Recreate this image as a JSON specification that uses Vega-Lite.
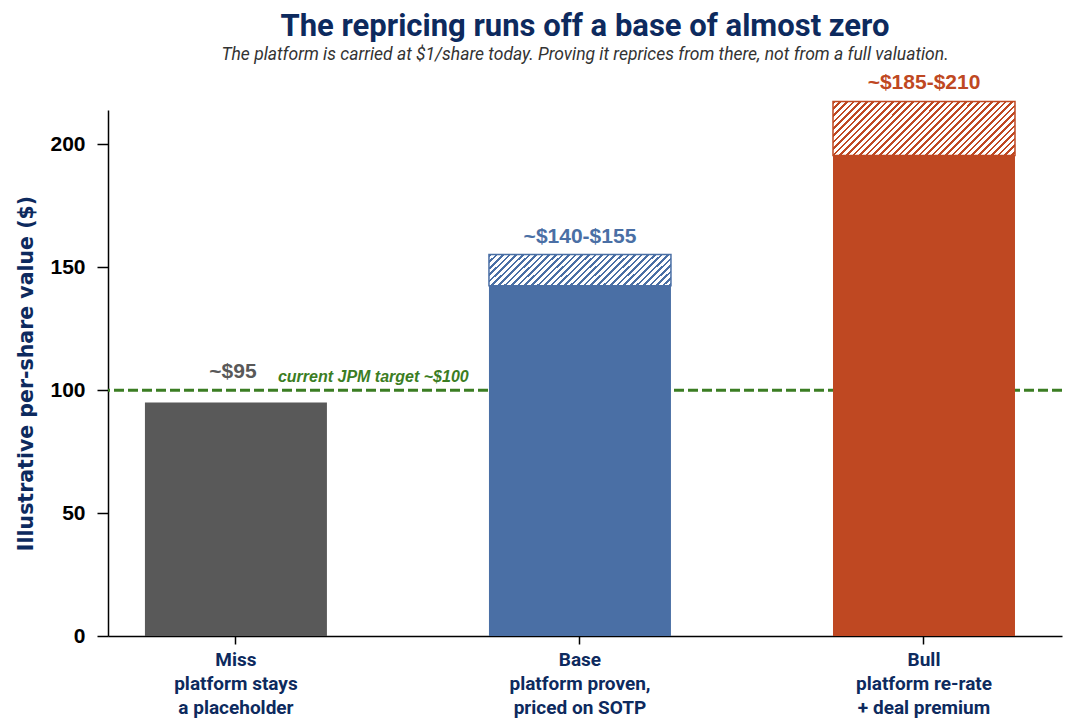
{
  "$schema": "https://vega.github.io/schema/vega-lite/v6.json",
  "width": 954,
  "height": 526,
  "autosize": {"type": "none"},
  "padding": {"left": 108, "top": 110, "right": 12, "bottom": 89},
  "background": "white",
  "config": {
    "view": {"stroke": null},
    "font": "Liberation Sans",
    "axis": {"grid": false, "domainColor": "black", "domainWidth": 1.5, "tickColor": "black", "tickWidth": 1.5}
  },
  "title": {
    "text": "The repricing runs off a base of almost zero",
    "subtitle": "The platform is carried at $1/share today. Proving it reprices from there, not from a full valuation.",
    "anchor": "middle",
    "frame": "group",
    "font": "Roboto",
    "fontSize": 31,
    "fontWeight": "bold",
    "color": "#0d2a5e",
    "subtitleFont": "Roboto",
    "subtitleFontSize": 17.5,
    "subtitleFontStyle": "italic",
    "subtitleColor": "#333333",
    "subtitlePadding": 3,
    "offset": 8
  },
  "data": {
    "values": [
      {"scenario": "Miss", "value": 95, "hi": 95, "label": "~$95"},
      {"scenario": "Base", "value": 142.5, "hi": 155.2, "label": "~$140-$155"},
      {"scenario": "Bull", "value": 195.5, "hi": 217.5, "label": "~$185-$210"}
    ]
  },
  "layer": [
    {
      "data": {"values": [{"note": "current JPM target ~$100", "target": 100}]},
      "mark": {"type": "rule", "strokeDash": [10, 4], "strokeWidth": 3, "color": "#3b7d23"},
      "encoding": {
        "y": {"field": "target", "type": "quantitative", "scale": {"domain": [0, 214], "nice": false}, "title": "Illustrative per-share value ($)"}
      }
    },
    {
      "data": {"values": [{"note": "current JPM target ~$100", "target": 100}]},
      "mark": {"type": "text", "align": "left", "baseline": "bottom", "dx": 42, "dy": -5, "font": "Liberation Sans", "fontSize": 16, "fontWeight": "bold", "fontStyle": "italic", "color": "#3b7d23"},
      "encoding": {
        "x": {"datum": "Miss", "type": "nominal"},
        "y": {"field": "target", "type": "quantitative", "scale": {"domain": [0, 214], "nice": false}, "title": "Illustrative per-share value ($)"},
        "text": {"field": "note"}
      }
    },
    {
      "mark": {"type": "bar"},
      "encoding": {
        "x": {
          "field": "scenario",
          "type": "nominal",
          "sort": ["Miss", "Base", "Bull"],
          "scale": {"paddingInner": 0.471, "paddingOuter": 0.122, "align": 0.44},
          "axis": {
            "title": null,
            "labelAngle": 0,
            "labelAlign": "center",
            "labelExpr": "datum.value == 'Miss' ? ['Miss', 'platform stays', 'a placeholder'] : datum.value == 'Base' ? ['Base', 'platform proven,', 'priced on SOTP'] : ['Bull', 'platform re-rate', '+ deal premium']",
            "labelFont": "Roboto",
            "labelFontSize": 19,
            "labelFontWeight": "bold",
            "labelColor": "#0d2a5e",
            "labelLineHeight": 24,
            "labelPadding": 15,
            "tickSize": 8
          }
        },
        "y": {
          "field": "value",
          "type": "quantitative",
          "scale": {"domain": [0, 214], "nice": false},
          "title": "Illustrative per-share value ($)",
          "axis": {
            "values": [0, 50, 100, 150, 200],
            "titleFont": "DejaVu Sans",
            "titleFontSize": 20.5,
            "titleFontWeight": "bold",
            "titleColor": "#0d2a5e",
            "titlePadding": 13,
            "labelFont": "Liberation Sans",
            "labelFontSize": 21,
            "labelFontWeight": "bold",
            "labelColor": "black",
            "labelPadding": 12,
            "tickSize": 11
          }
        },
        "color": {
          "field": "scenario",
          "type": "nominal",
          "scale": {"domain": ["Miss", "Base", "Bull"], "range": ["#595959", "#4a6fa5", "#bf4822"]},
          "legend": null
        }
      }
    },
    {
      "transform": [{"filter": "datum.scenario == 'Base'"}],
      "mark": {
        "type": "bar",
        "stroke": "#4a6fa5",
        "strokeWidth": 1.5,
        "fill": {
          "gradient": "linear", "x1": 0, "y1": 0, "x2": 1.407, "y2": 0.247,
          "stops": [
            {"offset": 0, "color": "#4a6fa5"}, {"offset": 0.01, "color": "#4a6fa5"}, {"offset": 0.01, "color": "#fff"}, {"offset": 0.025, "color": "#fff"},
            {"offset": 0.025, "color": "#4a6fa5"}, {"offset": 0.035, "color": "#4a6fa5"}, {"offset": 0.035, "color": "#fff"}, {"offset": 0.05, "color": "#fff"},
            {"offset": 0.05, "color": "#4a6fa5"}, {"offset": 0.06, "color": "#4a6fa5"}, {"offset": 0.06, "color": "#fff"}, {"offset": 0.075, "color": "#fff"},
            {"offset": 0.075, "color": "#4a6fa5"}, {"offset": 0.085, "color": "#4a6fa5"}, {"offset": 0.085, "color": "#fff"}, {"offset": 0.1, "color": "#fff"},
            {"offset": 0.1, "color": "#4a6fa5"}, {"offset": 0.11, "color": "#4a6fa5"}, {"offset": 0.11, "color": "#fff"}, {"offset": 0.125, "color": "#fff"},
            {"offset": 0.125, "color": "#4a6fa5"}, {"offset": 0.135, "color": "#4a6fa5"}, {"offset": 0.135, "color": "#fff"}, {"offset": 0.15, "color": "#fff"},
            {"offset": 0.15, "color": "#4a6fa5"}, {"offset": 0.16, "color": "#4a6fa5"}, {"offset": 0.16, "color": "#fff"}, {"offset": 0.175, "color": "#fff"},
            {"offset": 0.175, "color": "#4a6fa5"}, {"offset": 0.185, "color": "#4a6fa5"}, {"offset": 0.185, "color": "#fff"}, {"offset": 0.2, "color": "#fff"},
            {"offset": 0.2, "color": "#4a6fa5"}, {"offset": 0.21, "color": "#4a6fa5"}, {"offset": 0.21, "color": "#fff"}, {"offset": 0.225, "color": "#fff"},
            {"offset": 0.225, "color": "#4a6fa5"}, {"offset": 0.235, "color": "#4a6fa5"}, {"offset": 0.235, "color": "#fff"}, {"offset": 0.25, "color": "#fff"},
            {"offset": 0.25, "color": "#4a6fa5"}, {"offset": 0.26, "color": "#4a6fa5"}, {"offset": 0.26, "color": "#fff"}, {"offset": 0.275, "color": "#fff"},
            {"offset": 0.275, "color": "#4a6fa5"}, {"offset": 0.285, "color": "#4a6fa5"}, {"offset": 0.285, "color": "#fff"}, {"offset": 0.3, "color": "#fff"},
            {"offset": 0.3, "color": "#4a6fa5"}, {"offset": 0.31, "color": "#4a6fa5"}, {"offset": 0.31, "color": "#fff"}, {"offset": 0.325, "color": "#fff"},
            {"offset": 0.325, "color": "#4a6fa5"}, {"offset": 0.335, "color": "#4a6fa5"}, {"offset": 0.335, "color": "#fff"}, {"offset": 0.35, "color": "#fff"},
            {"offset": 0.35, "color": "#4a6fa5"}, {"offset": 0.36, "color": "#4a6fa5"}, {"offset": 0.36, "color": "#fff"}, {"offset": 0.375, "color": "#fff"},
            {"offset": 0.375, "color": "#4a6fa5"}, {"offset": 0.385, "color": "#4a6fa5"}, {"offset": 0.385, "color": "#fff"}, {"offset": 0.4, "color": "#fff"},
            {"offset": 0.4, "color": "#4a6fa5"}, {"offset": 0.41, "color": "#4a6fa5"}, {"offset": 0.41, "color": "#fff"}, {"offset": 0.425, "color": "#fff"},
            {"offset": 0.425, "color": "#4a6fa5"}, {"offset": 0.435, "color": "#4a6fa5"}, {"offset": 0.435, "color": "#fff"}, {"offset": 0.45, "color": "#fff"},
            {"offset": 0.45, "color": "#4a6fa5"}, {"offset": 0.46, "color": "#4a6fa5"}, {"offset": 0.46, "color": "#fff"}, {"offset": 0.475, "color": "#fff"},
            {"offset": 0.475, "color": "#4a6fa5"}, {"offset": 0.485, "color": "#4a6fa5"}, {"offset": 0.485, "color": "#fff"}, {"offset": 0.5, "color": "#fff"},
            {"offset": 0.5, "color": "#4a6fa5"}, {"offset": 0.51, "color": "#4a6fa5"}, {"offset": 0.51, "color": "#fff"}, {"offset": 0.525, "color": "#fff"},
            {"offset": 0.525, "color": "#4a6fa5"}, {"offset": 0.535, "color": "#4a6fa5"}, {"offset": 0.535, "color": "#fff"}, {"offset": 0.55, "color": "#fff"},
            {"offset": 0.55, "color": "#4a6fa5"}, {"offset": 0.56, "color": "#4a6fa5"}, {"offset": 0.56, "color": "#fff"}, {"offset": 0.575, "color": "#fff"},
            {"offset": 0.575, "color": "#4a6fa5"}, {"offset": 0.585, "color": "#4a6fa5"}, {"offset": 0.585, "color": "#fff"}, {"offset": 0.6, "color": "#fff"},
            {"offset": 0.6, "color": "#4a6fa5"}, {"offset": 0.61, "color": "#4a6fa5"}, {"offset": 0.61, "color": "#fff"}, {"offset": 0.625, "color": "#fff"},
            {"offset": 0.625, "color": "#4a6fa5"}, {"offset": 0.635, "color": "#4a6fa5"}, {"offset": 0.635, "color": "#fff"}, {"offset": 0.65, "color": "#fff"},
            {"offset": 0.65, "color": "#4a6fa5"}, {"offset": 0.66, "color": "#4a6fa5"}, {"offset": 0.66, "color": "#fff"}, {"offset": 0.675, "color": "#fff"},
            {"offset": 0.675, "color": "#4a6fa5"}, {"offset": 0.685, "color": "#4a6fa5"}, {"offset": 0.685, "color": "#fff"}, {"offset": 0.7, "color": "#fff"},
            {"offset": 0.7, "color": "#4a6fa5"}, {"offset": 0.71, "color": "#4a6fa5"}, {"offset": 0.71, "color": "#fff"}, {"offset": 0.725, "color": "#fff"},
            {"offset": 0.725, "color": "#4a6fa5"}, {"offset": 0.735, "color": "#4a6fa5"}, {"offset": 0.735, "color": "#fff"}, {"offset": 0.75, "color": "#fff"},
            {"offset": 0.75, "color": "#4a6fa5"}, {"offset": 0.76, "color": "#4a6fa5"}, {"offset": 0.76, "color": "#fff"}, {"offset": 0.775, "color": "#fff"},
            {"offset": 0.775, "color": "#4a6fa5"}, {"offset": 0.785, "color": "#4a6fa5"}, {"offset": 0.785, "color": "#fff"}, {"offset": 0.8, "color": "#fff"},
            {"offset": 0.8, "color": "#4a6fa5"}, {"offset": 0.81, "color": "#4a6fa5"}, {"offset": 0.81, "color": "#fff"}, {"offset": 0.825, "color": "#fff"},
            {"offset": 0.825, "color": "#4a6fa5"}, {"offset": 0.835, "color": "#4a6fa5"}, {"offset": 0.835, "color": "#fff"}, {"offset": 0.85, "color": "#fff"},
            {"offset": 0.85, "color": "#4a6fa5"}, {"offset": 0.86, "color": "#4a6fa5"}, {"offset": 0.86, "color": "#fff"}, {"offset": 0.875, "color": "#fff"},
            {"offset": 0.875, "color": "#4a6fa5"}, {"offset": 0.885, "color": "#4a6fa5"}, {"offset": 0.885, "color": "#fff"}, {"offset": 0.9, "color": "#fff"},
            {"offset": 0.9, "color": "#4a6fa5"}, {"offset": 0.91, "color": "#4a6fa5"}, {"offset": 0.91, "color": "#fff"}, {"offset": 0.925, "color": "#fff"},
            {"offset": 0.925, "color": "#4a6fa5"}, {"offset": 0.935, "color": "#4a6fa5"}, {"offset": 0.935, "color": "#fff"}, {"offset": 0.95, "color": "#fff"},
            {"offset": 0.95, "color": "#4a6fa5"}, {"offset": 0.96, "color": "#4a6fa5"}, {"offset": 0.96, "color": "#fff"}, {"offset": 0.975, "color": "#fff"},
            {"offset": 0.975, "color": "#4a6fa5"}, {"offset": 0.985, "color": "#4a6fa5"}, {"offset": 0.985, "color": "#fff"}, {"offset": 1, "color": "#fff"}
          ]
        }
      },
      "encoding": {
        "x": {"field": "scenario", "type": "nominal", "sort": ["Miss", "Base", "Bull"]},
        "y": {"field": "value", "type": "quantitative", "scale": {"domain": [0, 214], "nice": false}, "title": "Illustrative per-share value ($)"},
        "y2": {"field": "hi"}
      }
    },
    {
      "transform": [{"filter": "datum.scenario == 'Bull'"}],
      "mark": {
        "type": "bar",
        "stroke": "#bf4822",
        "strokeWidth": 1.5,
        "fill": {
          "gradient": "linear", "x1": 0, "y1": 0, "x2": 1.333, "y2": 0.396,
          "stops": [
            {"offset": 0, "color": "#bf4822"}, {"offset": 0.01, "color": "#bf4822"}, {"offset": 0.01, "color": "#fff"}, {"offset": 0.025, "color": "#fff"},
            {"offset": 0.025, "color": "#bf4822"}, {"offset": 0.035, "color": "#bf4822"}, {"offset": 0.035, "color": "#fff"}, {"offset": 0.05, "color": "#fff"},
            {"offset": 0.05, "color": "#bf4822"}, {"offset": 0.06, "color": "#bf4822"}, {"offset": 0.06, "color": "#fff"}, {"offset": 0.075, "color": "#fff"},
            {"offset": 0.075, "color": "#bf4822"}, {"offset": 0.085, "color": "#bf4822"}, {"offset": 0.085, "color": "#fff"}, {"offset": 0.1, "color": "#fff"},
            {"offset": 0.1, "color": "#bf4822"}, {"offset": 0.11, "color": "#bf4822"}, {"offset": 0.11, "color": "#fff"}, {"offset": 0.125, "color": "#fff"},
            {"offset": 0.125, "color": "#bf4822"}, {"offset": 0.135, "color": "#bf4822"}, {"offset": 0.135, "color": "#fff"}, {"offset": 0.15, "color": "#fff"},
            {"offset": 0.15, "color": "#bf4822"}, {"offset": 0.16, "color": "#bf4822"}, {"offset": 0.16, "color": "#fff"}, {"offset": 0.175, "color": "#fff"},
            {"offset": 0.175, "color": "#bf4822"}, {"offset": 0.185, "color": "#bf4822"}, {"offset": 0.185, "color": "#fff"}, {"offset": 0.2, "color": "#fff"},
            {"offset": 0.2, "color": "#bf4822"}, {"offset": 0.21, "color": "#bf4822"}, {"offset": 0.21, "color": "#fff"}, {"offset": 0.225, "color": "#fff"},
            {"offset": 0.225, "color": "#bf4822"}, {"offset": 0.235, "color": "#bf4822"}, {"offset": 0.235, "color": "#fff"}, {"offset": 0.25, "color": "#fff"},
            {"offset": 0.25, "color": "#bf4822"}, {"offset": 0.26, "color": "#bf4822"}, {"offset": 0.26, "color": "#fff"}, {"offset": 0.275, "color": "#fff"},
            {"offset": 0.275, "color": "#bf4822"}, {"offset": 0.285, "color": "#bf4822"}, {"offset": 0.285, "color": "#fff"}, {"offset": 0.3, "color": "#fff"},
            {"offset": 0.3, "color": "#bf4822"}, {"offset": 0.31, "color": "#bf4822"}, {"offset": 0.31, "color": "#fff"}, {"offset": 0.325, "color": "#fff"},
            {"offset": 0.325, "color": "#bf4822"}, {"offset": 0.335, "color": "#bf4822"}, {"offset": 0.335, "color": "#fff"}, {"offset": 0.35, "color": "#fff"},
            {"offset": 0.35, "color": "#bf4822"}, {"offset": 0.36, "color": "#bf4822"}, {"offset": 0.36, "color": "#fff"}, {"offset": 0.375, "color": "#fff"},
            {"offset": 0.375, "color": "#bf4822"}, {"offset": 0.385, "color": "#bf4822"}, {"offset": 0.385, "color": "#fff"}, {"offset": 0.4, "color": "#fff"},
            {"offset": 0.4, "color": "#bf4822"}, {"offset": 0.41, "color": "#bf4822"}, {"offset": 0.41, "color": "#fff"}, {"offset": 0.425, "color": "#fff"},
            {"offset": 0.425, "color": "#bf4822"}, {"offset": 0.435, "color": "#bf4822"}, {"offset": 0.435, "color": "#fff"}, {"offset": 0.45, "color": "#fff"},
            {"offset": 0.45, "color": "#bf4822"}, {"offset": 0.46, "color": "#bf4822"}, {"offset": 0.46, "color": "#fff"}, {"offset": 0.475, "color": "#fff"},
            {"offset": 0.475, "color": "#bf4822"}, {"offset": 0.485, "color": "#bf4822"}, {"offset": 0.485, "color": "#fff"}, {"offset": 0.5, "color": "#fff"},
            {"offset": 0.5, "color": "#bf4822"}, {"offset": 0.51, "color": "#bf4822"}, {"offset": 0.51, "color": "#fff"}, {"offset": 0.525, "color": "#fff"},
            {"offset": 0.525, "color": "#bf4822"}, {"offset": 0.535, "color": "#bf4822"}, {"offset": 0.535, "color": "#fff"}, {"offset": 0.55, "color": "#fff"},
            {"offset": 0.55, "color": "#bf4822"}, {"offset": 0.56, "color": "#bf4822"}, {"offset": 0.56, "color": "#fff"}, {"offset": 0.575, "color": "#fff"},
            {"offset": 0.575, "color": "#bf4822"}, {"offset": 0.585, "color": "#bf4822"}, {"offset": 0.585, "color": "#fff"}, {"offset": 0.6, "color": "#fff"},
            {"offset": 0.6, "color": "#bf4822"}, {"offset": 0.61, "color": "#bf4822"}, {"offset": 0.61, "color": "#fff"}, {"offset": 0.625, "color": "#fff"},
            {"offset": 0.625, "color": "#bf4822"}, {"offset": 0.635, "color": "#bf4822"}, {"offset": 0.635, "color": "#fff"}, {"offset": 0.65, "color": "#fff"},
            {"offset": 0.65, "color": "#bf4822"}, {"offset": 0.66, "color": "#bf4822"}, {"offset": 0.66, "color": "#fff"}, {"offset": 0.675, "color": "#fff"},
            {"offset": 0.675, "color": "#bf4822"}, {"offset": 0.685, "color": "#bf4822"}, {"offset": 0.685, "color": "#fff"}, {"offset": 0.7, "color": "#fff"},
            {"offset": 0.7, "color": "#bf4822"}, {"offset": 0.71, "color": "#bf4822"}, {"offset": 0.71, "color": "#fff"}, {"offset": 0.725, "color": "#fff"},
            {"offset": 0.725, "color": "#bf4822"}, {"offset": 0.735, "color": "#bf4822"}, {"offset": 0.735, "color": "#fff"}, {"offset": 0.75, "color": "#fff"},
            {"offset": 0.75, "color": "#bf4822"}, {"offset": 0.76, "color": "#bf4822"}, {"offset": 0.76, "color": "#fff"}, {"offset": 0.775, "color": "#fff"},
            {"offset": 0.775, "color": "#bf4822"}, {"offset": 0.785, "color": "#bf4822"}, {"offset": 0.785, "color": "#fff"}, {"offset": 0.8, "color": "#fff"},
            {"offset": 0.8, "color": "#bf4822"}, {"offset": 0.81, "color": "#bf4822"}, {"offset": 0.81, "color": "#fff"}, {"offset": 0.825, "color": "#fff"},
            {"offset": 0.825, "color": "#bf4822"}, {"offset": 0.835, "color": "#bf4822"}, {"offset": 0.835, "color": "#fff"}, {"offset": 0.85, "color": "#fff"},
            {"offset": 0.85, "color": "#bf4822"}, {"offset": 0.86, "color": "#bf4822"}, {"offset": 0.86, "color": "#fff"}, {"offset": 0.875, "color": "#fff"},
            {"offset": 0.875, "color": "#bf4822"}, {"offset": 0.885, "color": "#bf4822"}, {"offset": 0.885, "color": "#fff"}, {"offset": 0.9, "color": "#fff"},
            {"offset": 0.9, "color": "#bf4822"}, {"offset": 0.91, "color": "#bf4822"}, {"offset": 0.91, "color": "#fff"}, {"offset": 0.925, "color": "#fff"},
            {"offset": 0.925, "color": "#bf4822"}, {"offset": 0.935, "color": "#bf4822"}, {"offset": 0.935, "color": "#fff"}, {"offset": 0.95, "color": "#fff"},
            {"offset": 0.95, "color": "#bf4822"}, {"offset": 0.96, "color": "#bf4822"}, {"offset": 0.96, "color": "#fff"}, {"offset": 0.975, "color": "#fff"},
            {"offset": 0.975, "color": "#bf4822"}, {"offset": 0.985, "color": "#bf4822"}, {"offset": 0.985, "color": "#fff"}, {"offset": 1, "color": "#fff"}
          ]
        }
      },
      "encoding": {
        "x": {"field": "scenario", "type": "nominal", "sort": ["Miss", "Base", "Bull"]},
        "y": {"field": "value", "type": "quantitative", "scale": {"domain": [0, 214], "nice": false}, "title": "Illustrative per-share value ($)"},
        "y2": {"field": "hi"}
      }
    },
    {
      "transform": [{"filter": "datum.scenario != 'Miss'"}],
      "mark": {"type": "text", "baseline": "bottom", "dy": -8, "font": "Liberation Sans", "fontSize": 21, "fontWeight": "bold"},
      "encoding": {
        "x": {"field": "scenario", "type": "nominal", "sort": ["Miss", "Base", "Bull"]},
        "y": {"field": "hi", "type": "quantitative", "scale": {"domain": [0, 214], "nice": false}, "title": "Illustrative per-share value ($)"},
        "text": {"field": "label"},
        "color": {"field": "scenario", "type": "nominal", "scale": {"domain": ["Miss", "Base", "Bull"], "range": ["#595959", "#4a6fa5", "#bf4822"]}, "legend": null}
      }
    },
    {
      "transform": [{"filter": "datum.scenario == 'Miss'"}],
      "mark": {"type": "text", "baseline": "bottom", "dy": -20, "dx": -3, "font": "Liberation Sans", "fontSize": 21, "fontWeight": "bold"},
      "encoding": {
        "x": {"field": "scenario", "type": "nominal", "sort": ["Miss", "Base", "Bull"]},
        "y": {"field": "hi", "type": "quantitative", "scale": {"domain": [0, 214], "nice": false}, "title": "Illustrative per-share value ($)"},
        "text": {"field": "label"},
        "color": {"field": "scenario", "type": "nominal", "scale": {"domain": ["Miss", "Base", "Bull"], "range": ["#595959", "#4a6fa5", "#bf4822"]}, "legend": null}
      }
    }
  ]
}
